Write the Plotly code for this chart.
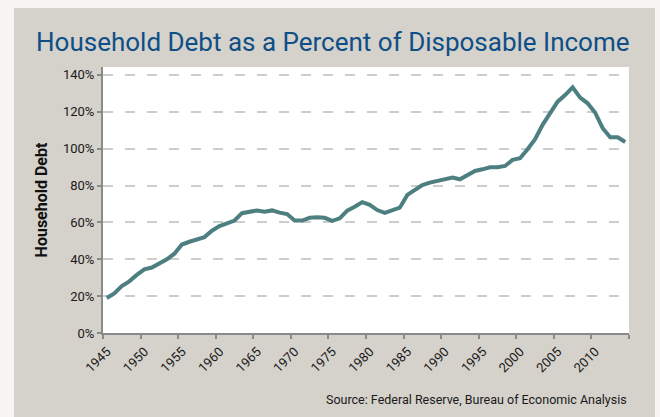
import plotly.graph_objects as go

years = list(range(1945, 2015))
debt_pct = [19, 21.5, 25.5, 28, 31.5, 34.5, 35.5, 37.5, 40, 43,
            48, 49.5, 50.5, 52, 55.5, 58, 59.5, 61, 65, 65.5,
            66.5, 65.8, 66.5, 65.3, 64.5, 61, 61, 62.5, 62.8, 62.5,
            60.8, 62.2, 66.4, 68.5, 71, 69.5, 66.7, 65.2, 66.4, 68,
            74.9, 77.6, 80.3, 81.6, 82.5, 83.4, 84.3, 83.4, 85.7, 87.9,
            88.8, 89.9, 89.9, 90.6, 93.9, 94.8, 99.7, 105.1, 112.9, 118.8,
            125.5, 129.1, 133.3, 127.7, 124.6, 119.5, 111.1, 106.2, 106.2, 103.6]
tick_years = list(range(1945, 2020, 5))
tick_labels = [str(y) if y < 2015 else "" for y in tick_years]
y_ticks = [0, 20, 40, 60, 80, 100, 120, 140]
y_labels = [f"{v}%" for v in y_ticks]

title_text = "Household Debt as a Percent of Disposable Income"
y_title = "Household Debt"
source_text = "Source: Federal Reserve, Bureau of Economic Analysis"

# annual values plotted at the centre of each year's slot
x_pos = [y + 0.5 for y in years]

FONT = "Roboto, Arial, sans-serif"

fig = go.Figure()
fig.add_trace(go.Scatter(x=x_pos, y=debt_pct, mode="lines",
                         line=dict(color="#4e7f80", width=4),
                         hoverinfo="skip"))

W, H = 660, 417
L, R, T, B = 103, 31, 67, 84
pw, ph = W - L - R, H - T - B

def px_x(p):
    return (p - L) / pw

def px_y(p):
    return (H - B - p) / ph

light = "#f6f5f3"
shapes = [
    dict(type="rect", xref="paper", yref="paper", x0=px_x(0), x1=px_x(W),
         y0=px_y(8), y1=px_y(0), fillcolor=light, line_width=0, layer="above"),
    dict(type="rect", xref="paper", yref="paper", x0=px_x(0), x1=px_x(14),
         y0=px_y(H), y1=px_y(0), fillcolor=light, line_width=0, layer="above"),
    dict(type="rect", xref="paper", yref="paper", x0=px_x(655), x1=px_x(W),
         y0=px_y(H), y1=px_y(0), fillcolor=light, line_width=0, layer="above"),
]

fig.update_layout(
    width=W, height=H,
    margin=dict(l=L, r=R, t=T, b=B),
    paper_bgcolor="#d5d1cb",
    plot_bgcolor="#ffffff",
    showlegend=False,
    shapes=shapes,
    xaxis=dict(range=[1945, 2015], tickmode="array", tickvals=tick_years,
               ticktext=tick_labels, tickangle=-45, ticks="outside", ticklen=4,
               tickwidth=1.5, tickcolor="#8a8a8a", showline=True,
               linecolor="#8a8a8a", linewidth=2, showgrid=False, zeroline=False,
               tickfont=dict(family=FONT, size=13, color="#1a1a1a"),
               ticklabelshift=4),
    yaxis=dict(range=[0, 144.3], tickmode="array", tickvals=y_ticks,
               ticktext=y_labels, ticks="outside", ticklen=4, tickwidth=1.5,
               tickcolor="#8a8a8a", showline=True, linecolor="#8a8a8a",
               linewidth=2, showgrid=True, gridcolor="#cdcdcd", gridwidth=1.5,
               griddash="10px,12px", zeroline=False,
               tickfont=dict(family=FONT, size=13, color="#1a1a1a"),
               title=dict(text=y_title, standoff=11,
                          font=dict(family=FONT, size=16, color="#111111",
                                    weight="bold"))),
    annotations=[
        dict(text=title_text, xref="paper", yref="paper", x=px_x(34), y=px_y(42),
             xanchor="left", yanchor="middle", showarrow=False,
             font=dict(family=FONT, size=26, color="#0d4f86")),
        dict(text=source_text, xref="paper", yref="paper", x=px_x(629), y=px_y(399),
             xanchor="right", yanchor="middle", showarrow=False,
             font=dict(family=FONT, size=12.5, color="#1a1a1a")),
    ],
)

fig.write_html("out.html")
